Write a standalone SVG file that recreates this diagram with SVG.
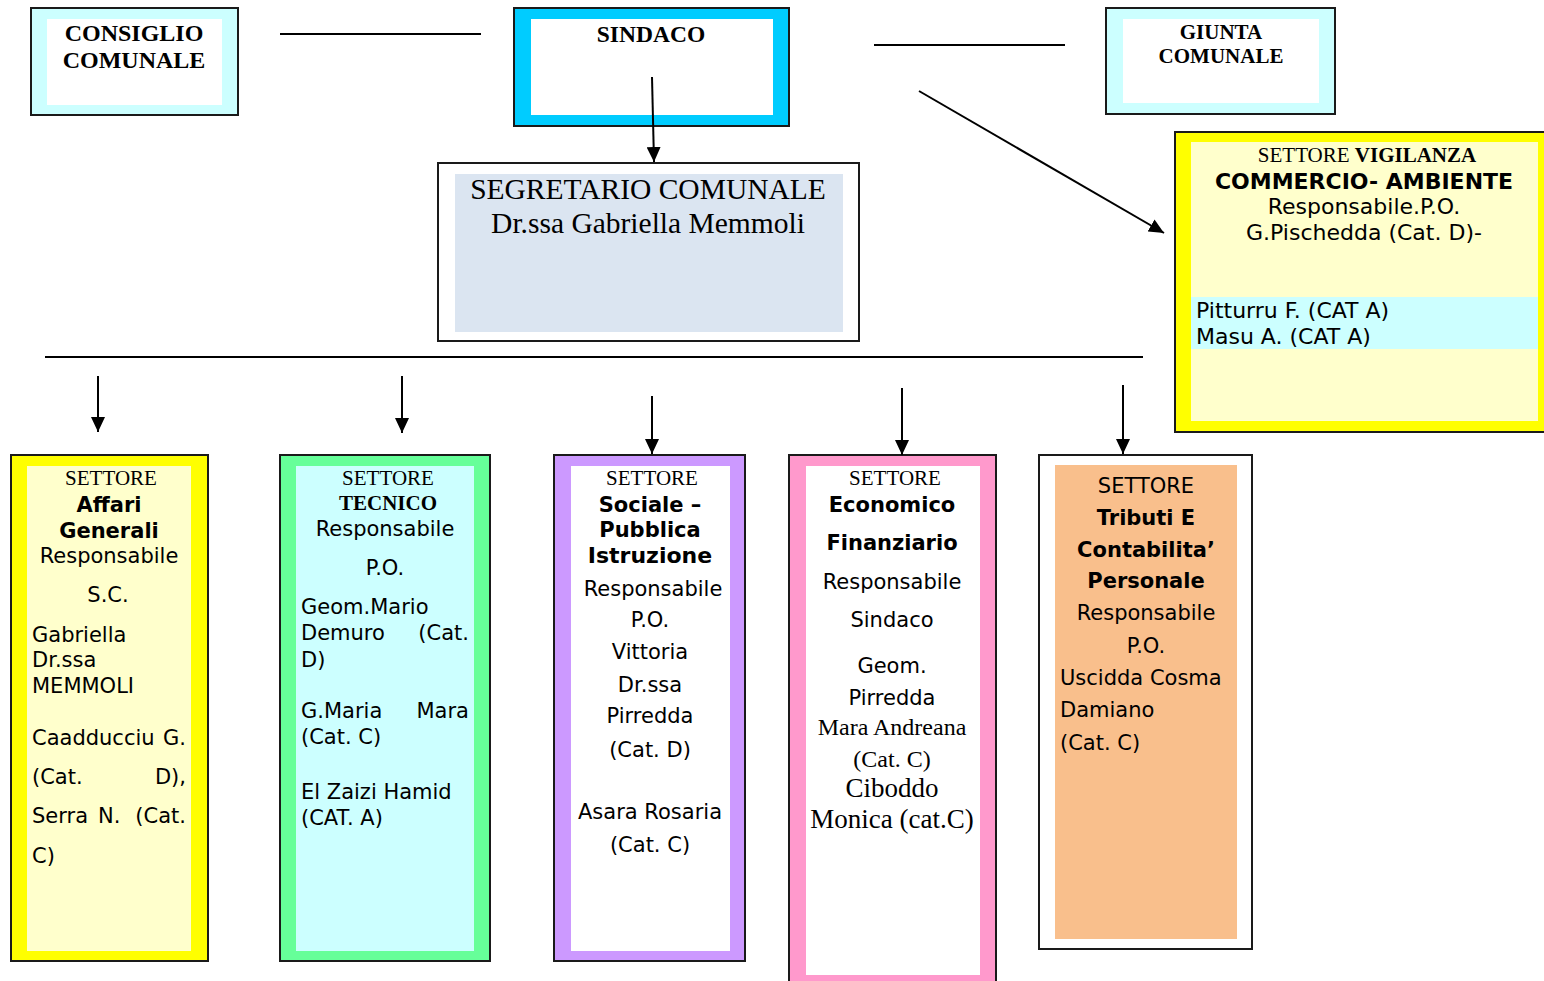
<svg xmlns="http://www.w3.org/2000/svg" width="1544" height="981" viewBox="0 0 1544 981">
<style>
.frame{stroke:#1a1a1a;stroke-width:2}
.serif{font-family:"Liberation Serif","Times New Roman",serif;fill:#000}
.sans{font-family:"DejaVu Sans","Verdana",sans-serif;fill:#000}
.b{font-weight:bold}
.c{text-anchor:middle}
.e{text-anchor:end}
.s21{font-size:21px}
.s22{font-size:22px}
.resp{font-size:21px}
.conn{stroke:#000;stroke-width:2;fill:none}
</style>
<defs>
<marker id="ah" markerUnits="userSpaceOnUse" markerWidth="16" markerHeight="14" refX="15" refY="7" orient="auto">
<path d="M0,0 L15,7 L0,14 Z" fill="#000"/>
</marker>
</defs>
<rect width="1544" height="981" fill="#fff"/>

<g id="consiglio-comunale">
<rect class="frame" x="31" y="8" width="207" height="107" fill="#CCFFFF"/>
<rect x="47" y="19" width="175" height="86" fill="#fff"/>
<text class="serif b c" x="134" y="41" font-size="24">CONSIGLIO</text>
<text class="serif b c" x="134" y="68" font-size="24">COMUNALE</text>
</g>

<g id="sindaco">
<rect class="frame" x="514" y="8" width="275" height="118" fill="#00CCFF"/>
<rect x="531" y="19" width="242" height="96" fill="#fff"/>
<text class="serif b c" x="651" y="42" font-size="23.5">SINDACO</text>
</g>

<g id="giunta-comunale">
<rect class="frame" x="1106" y="8" width="229" height="106" fill="#CCFFFF"/>
<rect x="1123" y="19" width="196" height="84" fill="#fff"/>
<text class="serif b c" x="1221" y="39" font-size="21">GIUNTA</text>
<text class="serif b c" x="1221" y="63" font-size="21">COMUNALE</text>
</g>

<g id="segretario-comunale">
<rect class="frame" x="438" y="163" width="421" height="178" fill="#fff"/>
<rect x="455" y="174" width="388" height="158" fill="#DBE5F1"/>
<text class="serif c" x="648" y="199" font-size="29.5">SEGRETARIO COMUNALE</text>
<text class="serif c" x="648" y="233" font-size="29.5">Dr.ssa Gabriella Memmoli</text>
</g>

<g id="settore-vigilanza">
<rect class="frame" x="1175" y="132" width="400" height="300" fill="#FFFF00"/>
<rect x="1191" y="142" width="347" height="279" fill="#FFFFCC"/>
<rect x="1191" y="297" width="347" height="52" fill="#CCFFFF"/>
<text class="serif c s21" x="1367" y="162">SETTORE <tspan class="b">VIGILANZA</tspan></text>
<text class="sans b c s22" x="1364" y="189">COMMERCIO- AMBIENTE</text>
<text class="sans c s22" x="1364" y="214">Responsabile.P.O.</text>
<text class="sans c s22" x="1364" y="240">G.Pischedda (Cat. D)-</text>
<text class="sans s22" x="1196" y="318">Pitturru F. (CAT A)</text>
<text class="sans s22" x="1196" y="344">Masu A. (CAT A)</text>
</g>

<g id="settore-affari-generali">
<rect class="frame" x="11" y="455" width="197" height="506" fill="#FFFF00"/>
<rect x="27" y="466" width="164" height="485" fill="#FFFFCC"/>
<text class="serif c s21" x="111" y="485">SETTORE</text>
<text class="sans b c s21" x="109" y="512">Affari</text>
<text class="sans b c s21" x="109" y="538">Generali</text>
<text class="sans c resp" x="109" y="563">Responsabile</text>
<text class="sans c s21" x="108" y="602">S.C.</text>
<text class="sans s21" x="32" y="642">Gabriella</text>
<text class="sans s21" x="32" y="667">Dr.ssa</text>
<text class="sans s21" x="32" y="693">MEMMOLI</text>
<text class="sans s21" x="32" y="745">Caadducciu</text>
<text class="sans e s21" x="186" y="745">G.</text>
<text class="sans s21" x="32" y="784">(Cat.</text>
<text class="sans e s21" x="186" y="784">D),</text>
<text class="sans s21" x="32" y="823">Serra</text>
<text class="sans s21" x="98" y="823">N.</text>
<text class="sans e s21" x="186" y="823">(Cat.</text>
<text class="sans s21" x="32" y="863">C)</text>
</g>

<g id="settore-tecnico">
<rect class="frame" x="280" y="455" width="210" height="506" fill="#66FF99"/>
<rect x="296" y="466" width="178" height="485" fill="#CCFFFF"/>
<text class="serif c s21" x="388" y="485">SETTORE</text>
<text class="serif b c s21" x="388" y="510">TECNICO</text>
<text class="sans c resp" x="385" y="536">Responsabile</text>
<text class="sans c s21" x="385" y="575">P.O.</text>
<text class="sans s21" x="301" y="614">Geom.Mario</text>
<text class="sans s21" x="301" y="640">Demuro</text>
<text class="sans e s21" x="469" y="640">(Cat.</text>
<text class="sans s21" x="301" y="667">D)</text>
<text class="sans s21" x="301" y="718">G.Maria</text>
<text class="sans e s21" x="469" y="718">Mara</text>
<text class="sans s21" x="301" y="744">(Cat. C)</text>
<text class="sans s21" x="301" y="799">El Zaizi Hamid</text>
<text class="sans s21" x="301" y="825">(CAT. A)</text>
</g>

<g id="settore-sociale">
<rect class="frame" x="554" y="455" width="191" height="506" fill="#CC99FF"/>
<rect x="571" y="466" width="159" height="485" fill="#fff"/>
<text class="serif c s21" x="652" y="485">SETTORE</text>
<text class="sans b c s21" x="650" y="512">Sociale –</text>
<text class="sans b c s21" x="650" y="537">Pubblica</text>
<text class="sans b c s22" x="650" y="563">Istruzione</text>
<text class="sans c resp" x="653" y="596">Responsabile</text>
<text class="sans c s21" x="650" y="627">P.O.</text>
<text class="sans c s21" x="650" y="659">Vittoria</text>
<text class="sans c s21" x="650" y="692">Dr.ssa</text>
<text class="sans c s21" x="650" y="723">Pirredda</text>
<text class="sans c s21" x="650" y="757">(Cat. D)</text>
<text class="sans c s21" x="650" y="819">Asara Rosaria</text>
<text class="sans c s21" x="650" y="852">(Cat. C)</text>
</g>

<g id="settore-economico">
<rect class="frame" x="789" y="455" width="207" height="540" fill="#FF99CC"/>
<rect x="806" y="466" width="174" height="509" fill="#fff"/>
<text class="serif c s21" x="895" y="485">SETTORE</text>
<text class="sans b c s21" x="892" y="512">Economico</text>
<text class="sans b c s21" x="892" y="550">Finanziario</text>
<text class="sans c resp" x="892" y="589">Responsabile</text>
<text class="sans c s21" x="892" y="627">Sindaco</text>
<text class="sans c s21" x="892" y="673">Geom.</text>
<text class="sans c s21" x="892" y="705">Pirredda</text>
<text class="serif c" x="892" y="735" font-size="24">Mara Andreana</text>
<text class="serif c" x="892" y="767" font-size="24">(Cat. C)</text>
<text class="serif c" x="892" y="797" font-size="27">Ciboddo</text>
<text class="serif c" x="892" y="828" font-size="27">Monica (cat.C)</text>
</g>

<g id="settore-tributi">
<rect class="frame" x="1039" y="455" width="213" height="494" fill="#fff"/>
<rect x="1055" y="465" width="182" height="474" fill="#F9BF8C"/>
<text class="sans c s21" x="1146" y="493">SETTORE</text>
<text class="sans b c s21" x="1146" y="525">Tributi E</text>
<text class="sans b c s21" x="1146" y="557">Contabilita’</text>
<text class="sans b c s21" x="1146" y="588">Personale</text>
<text class="sans c resp" x="1146" y="620">Responsabile</text>
<text class="sans c s21" x="1146" y="653">P.O.</text>
<text class="sans s21" x="1060" y="685">Uscidda Cosma</text>
<text class="sans s21" x="1060" y="717">Damiano</text>
<text class="sans s21" x="1060" y="750">(Cat. C)</text>
</g>

<g id="connectors">
<line class="conn" x1="280" y1="34" x2="481" y2="34"/>
<line class="conn" x1="874" y1="45" x2="1065" y2="45"/>
<line class="conn" x1="652" y1="77" x2="654" y2="162" marker-end="url(#ah)"/>
<line class="conn" x1="919" y1="91" x2="1164" y2="233" marker-end="url(#ah)"/>
<line class="conn" x1="45" y1="357" x2="1143" y2="357"/>
<line class="conn" x1="98" y1="376" x2="98" y2="432" marker-end="url(#ah)"/>
<line class="conn" x1="402" y1="376" x2="402" y2="433" marker-end="url(#ah)"/>
<line class="conn" x1="652" y1="396" x2="652" y2="454" marker-end="url(#ah)"/>
<line class="conn" x1="902" y1="388" x2="902" y2="455" marker-end="url(#ah)"/>
<line class="conn" x1="1123" y1="385" x2="1123" y2="454" marker-end="url(#ah)"/>
</g>
</svg>
